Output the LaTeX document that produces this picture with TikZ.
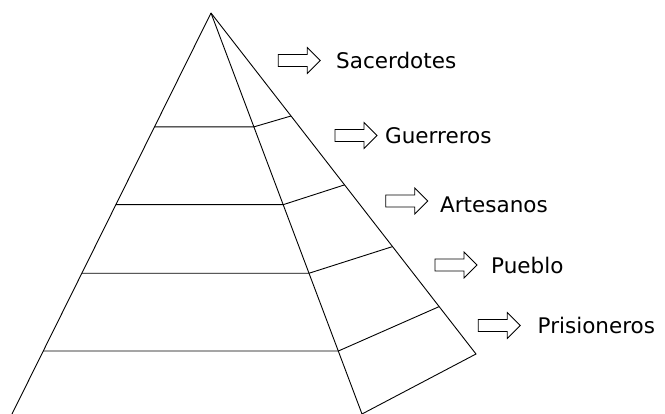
\documentclass[tikz,border=0pt]{standalone}
\usepackage{fontspec}
\setmainfont{DejaVu Sans}
\usetikzlibrary{calc}
\tikzset{
  edge/.style={line width=0.9pt, black},
  blockarrow/.pic={\draw[line width=0.8pt, line join=miter] (0,-6) -- (29,-6) -- (29,-13) -- (42,0) -- (29,13) -- (29,6) -- (0,6) -- cycle;},
  lbl/.style={anchor=base west, inner sep=0pt, font=\fontsize{21.5}{26}\selectfont}
}
\begin{document}
\begin{tikzpicture}[x=1pt, y=-1pt]
\useasboundingbox (0,0) rectangle (665,414);
% pyramid corners
\coordinate (A) at (211,13);
\coordinate (L) at (12,414);
\coordinate (F) at (362,414);
\coordinate (B) at (476,354);
% level points
\foreach \i/\tf/\tb in {1/0.284/0.302, 2/0.478/0.504, 3/0.649/0.685, 4/0.843/0.861}{
  \coordinate (l\i) at ($(A)!\tf!(L)$);
  \coordinate (f\i) at ($(A)!\tf!(F)$);
  \coordinate (b\i) at ($(A)!\tb!(B)$);
}
\draw[edge] (A) -- (L);
\draw[edge] (A) -- (F);
\draw[edge] (A) -- (B) -- (F);
\foreach \i in {1,2,3,4}{
  \draw[edge] (l\i) -- (f\i) -- (b\i);
}
% arrows and labels
\pic at (278.3,60.5) {blockarrow};
\node[lbl] (sac) at (336,68.3) {Sacerdotes};
\pic at (335,135.5) {blockarrow};
\node[lbl] (gue) at (385,143.3) {Guerreros};
\pic at (385.7,201) {blockarrow};
\node[lbl] (art) at (440,212.3) {Artesanos};
\pic at (435,265) {blockarrow};
\node[lbl] (pue) at (491,273.3) {Pueblo};
\pic at (478.3,325.5) {blockarrow};
\node[lbl] (pri) at (537.5,333.3) {Prisioneros};
\end{tikzpicture}
\end{document}
